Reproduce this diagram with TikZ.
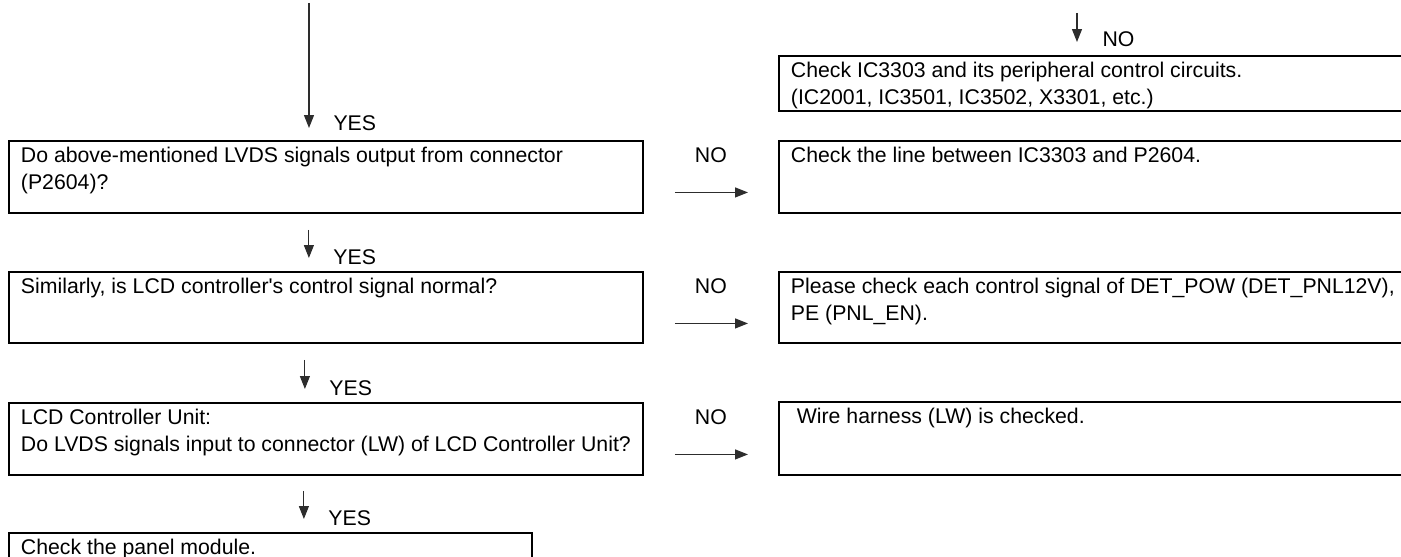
\documentclass[tikz,border=0pt]{standalone}
\usepackage{fontspec}
\setmainfont{Liberation Sans}[Ligatures=TeXOff]
\usepackage{tikz}
\usetikzlibrary{arrows.meta, positioning, calc}
\definecolor{flowgray}{RGB}{45,45,45}
\newcommand{\boxtxt}[3]{\parbox[c][\dimexpr#2-0.28cm\relax][t]{\dimexpr#1-0.48cm\relax}{\raggedright #3}}
\tikzset{
  stepbox/.style={rectangle, draw=black, line width=1.1pt, anchor=north west,
    inner xsep=0.24cm, inner ysep=0.13cm, font=\fontsize{12.1pt}{15.2pt}\selectfont},
  flow/.style={-{Triangle[length=0.26cm,width=0.2cm]}, line width=0.65pt, color=flowgray},
  tag/.style={inner sep=0pt, font=\fontsize{12.1pt}{14pt}\selectfont, text=black}
}

\begin{document}
\begin{tikzpicture}[x=0.02cm, y=-0.02cm]
  \useasboundingbox (0,0) rectangle (1401,557);
  \clip (0,0) rectangle (1401,557);

  % left column
  \node[stepbox] (b1) at (8,140) {\boxtxt{12.68cm}{1.46cm}{Do above-mentioned LVDS signals output from connector\\(P2604)?}};
  \node[stepbox] (b2) at (8,271) {\boxtxt{12.68cm}{1.44cm}{Similarly, is LCD controller's control signal normal?}};
  \node[stepbox] (b3) at (8,402) {\boxtxt{12.68cm}{1.46cm}{LCD Controller Unit:\\Do LVDS signals input to connector (LW) of LCD Controller Unit?}};
  \node[stepbox] (b4) at (8,532) {\boxtxt{10.46cm}{1.4cm}{Check the panel module.}};

  % right column
  \node[stepbox] (r0) at (778,55) {\boxtxt{12.8cm}{1.12cm}{Check IC3303 and its peripheral control circuits.\\(IC2001, IC3501, IC3502, X3301, etc.)}};
  \node[stepbox] (r1) at (778,140) {\boxtxt{12.8cm}{1.46cm}{Check the line between IC3303 and P2604.}};
  \node[stepbox] (r2) at (778,271) {\boxtxt{12.8cm}{1.44cm}{Please check each control signal of DET\_POW (DET\_PNL12V),\\PE (PNL\_EN).}};
  \node[stepbox] (r3) at (778,401) {\boxtxt{12.8cm}{1.48cm}{~Wire harness (LW) is checked.}};

  \coordinate (topin) at (309,3);
  \coordinate (noin) at (1077,13);

  % YES path
  \draw[flow, shorten >=0.24cm] (topin) -- (topin |- b1.north)
    node[tag, anchor=base west, xshift=0.48cm, yshift=0.2cm] {YES};
  \draw[flow, shorten <=0.32cm, shorten >=0.26cm] ([xshift=-0.34cm]b1.south) -- ([xshift=-0.34cm]b1.south |- b2.north)
    node[tag, anchor=base west, xshift=0.48cm, yshift=0.14cm] {YES};
  \draw[flow, shorten <=0.32cm, shorten >=0.26cm] ([xshift=-0.42cm]b2.south) -- ([xshift=-0.42cm]b2.south |- b3.north)
    node[tag, anchor=base west, xshift=0.48cm, yshift=0.14cm] {YES};
  \draw[flow, shorten <=0.3cm, shorten >=0.26cm] ([xshift=-0.44cm]b3.south) -- ([xshift=-0.44cm]b3.south |- b4.north)
    node[tag, anchor=base west, xshift=0.48cm, yshift=0.14cm] {YES};

  % NO path
  \draw[flow, shorten >=0.26cm] (noin) -- (noin |- r0.north)
    node[tag, anchor=base west, xshift=0.5cm, yshift=0.16cm] {NO};
  \draw[flow, shorten <=0.62cm, shorten >=0.6cm] ([yshift=-0.31cm]b1.east) -- ([yshift=-0.31cm]b1.east -| r1.west)
    node[tag, midway, above=0.59cm] {NO};
  \draw[flow, shorten <=0.62cm, shorten >=0.6cm] ([yshift=-0.32cm]b2.east) -- ([yshift=-0.32cm]b2.east -| r2.west)
    node[tag, midway, above=0.59cm] {NO};
  \draw[flow, shorten <=0.62cm, shorten >=0.6cm] ([yshift=-0.31cm]b3.east) -- ([yshift=-0.31cm]b3.east -| r3.west)
    node[tag, midway, above=0.59cm] {NO};
\end{tikzpicture}
\end{document}
